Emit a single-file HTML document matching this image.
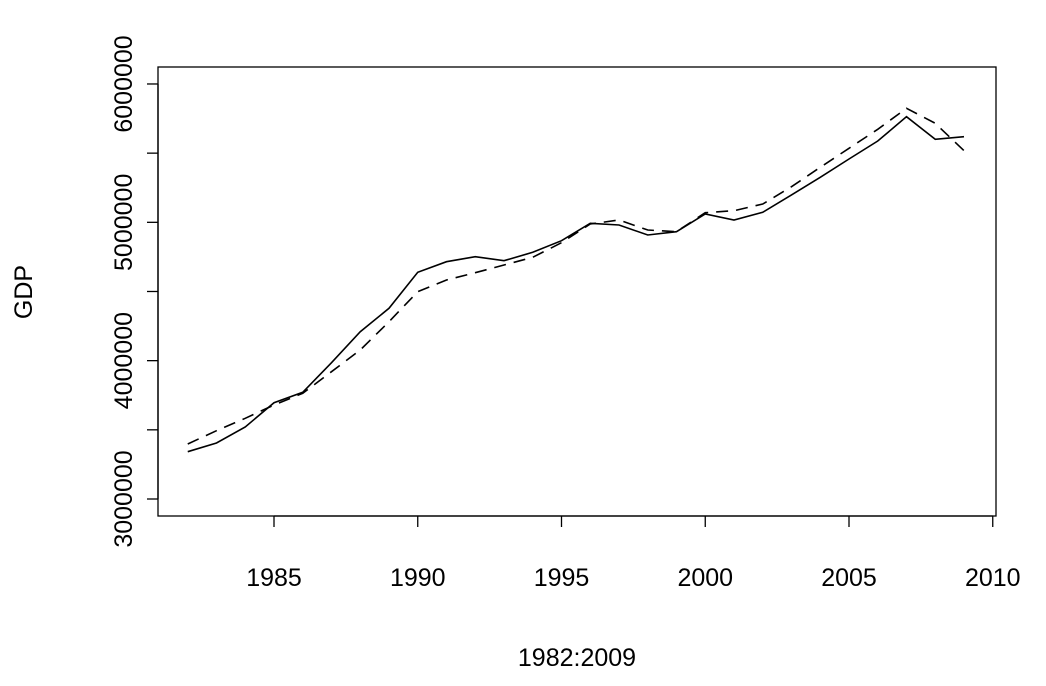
<!DOCTYPE html>
<html><head><meta charset="utf-8"><style>
html,body{margin:0;padding:0;background:#fff;}
svg{display:block;font-family:"Liberation Sans",Arial,sans-serif;}
</style></head><body>
<svg id="chart" width="1046" height="686" viewBox="0 0 1046 686" xmlns="http://www.w3.org/2000/svg">
<rect x="0" y="0" width="1046" height="686" fill="#fff"/>
<rect x="158" y="67" width="838" height="449" fill="none" stroke="#000" stroke-width="1.3"/>
<g id="xaxis"></g>
<g id="yaxis"></g>
<g id="series"></g>
<text x="577" y="666" font-size="25" text-anchor="middle">1982:2009</text>
<text x="0" y="0" font-size="25" text-anchor="middle" transform="translate(32,292) rotate(-90)">GDP</text>
</svg>
<script>
const years = [1982,1983,1984,1985,1986,1987,1988,1989,1990,1991,1992,1993,1994,1995,1996,1997,1998,1999,2000,2001,2002,2003,2004,2005,2006,2007,2008,2009];
const gdpActual = [3341900,3404800,3520500,3696100,3771300,3985300,4209300,4378500,4638700,4715400,4751500,4722600,4783300,4867200,4992900,4980600,4908400,4932200,5060200,5016800,5072500,5197500,5325500,5457700,5587800,5763500,5600100,5618900];
const gdpFitted = [3397600,3493700,3583300,3679500,3764100,3920200,4077100,4281600,4498500,4583100,4635800,4691500,4747200,4852700,4987900,5016800,4944500,4932200,5069600,5084000,5132400,5257500,5397700,5535100,5672400,5824200,5715800,5517700];
const xTicks = [1985,1990,1995,2000,2005,2010];
const yTicks = [3000000,3500000,4000000,4500000,5000000,5500000,6000000];
const yLabels = ["3000000","4000000","5000000","6000000"];

const NS = "http://www.w3.org/2000/svg";
function xs(yr){ return 187.75 + (yr - 1982) * 28.75; }
function ys(v){ return 499 - (v - 3000000) / 500000 * 69.17; }
function mk(tag, attrs, parent){
  const e = document.createElementNS(NS, tag);
  for (const k in attrs) e.setAttribute(k, attrs[k]);
  parent.appendChild(e);
  return e;
}
const xg = document.getElementById('xaxis');
const yg = document.getElementById('yaxis');
const sg = document.getElementById('series');

const xl = mk('line', {x1: xs(xTicks[0]), x2: xs(xTicks[xTicks.length-1]), y1: 516, y2: 516, stroke: '#000', 'stroke-width': 1.3}, xg);


xTicks.forEach(t => {
  const tk = mk('line', {x1: xs(t), x2: xs(t), y1: 516, y2: 527, stroke: '#000', 'stroke-width': 1.3}, xg);
  
  
  const lb = mk('text', {x: xs(t), y: 586, 'font-size': 25, 'text-anchor': 'middle'}, xg);
  
  
  lb.textContent = String(t);
});

const yl = mk('line', {x1: 158, x2: 158, y1: ys(yTicks[0]), y2: ys(yTicks[yTicks.length-1]), stroke: '#000', 'stroke-width': 1.3}, yg);


yTicks.forEach(t => {
  const tk = mk('line', {x1: 147, x2: 158, y1: ys(t), y2: ys(t), stroke: '#000', 'stroke-width': 1.3}, yg);
  
  
});
yLabels.forEach(s => {
  const v = Number(s);
  const lb = mk('text', {x: 0, y: 0, 'font-size': 25, 'text-anchor': 'middle', transform: 'translate(132,' + ys(v) + ') rotate(-90)'}, yg);
  
  
  lb.textContent = s;
});

function pts(arr){ return arr.map((v,i) => xs(years[i]) + ',' + ys(v)).join(' '); }
const la = mk('polyline', {points: pts(gdpActual), fill: 'none', stroke: '#000', 'stroke-width': 1.6}, sg);


const lf = mk('polyline', {points: pts(gdpFitted), fill: 'none', stroke: '#000', 'stroke-width': 1.6, 'stroke-dasharray': '12,8'}, sg);


</script>
</body></html>
